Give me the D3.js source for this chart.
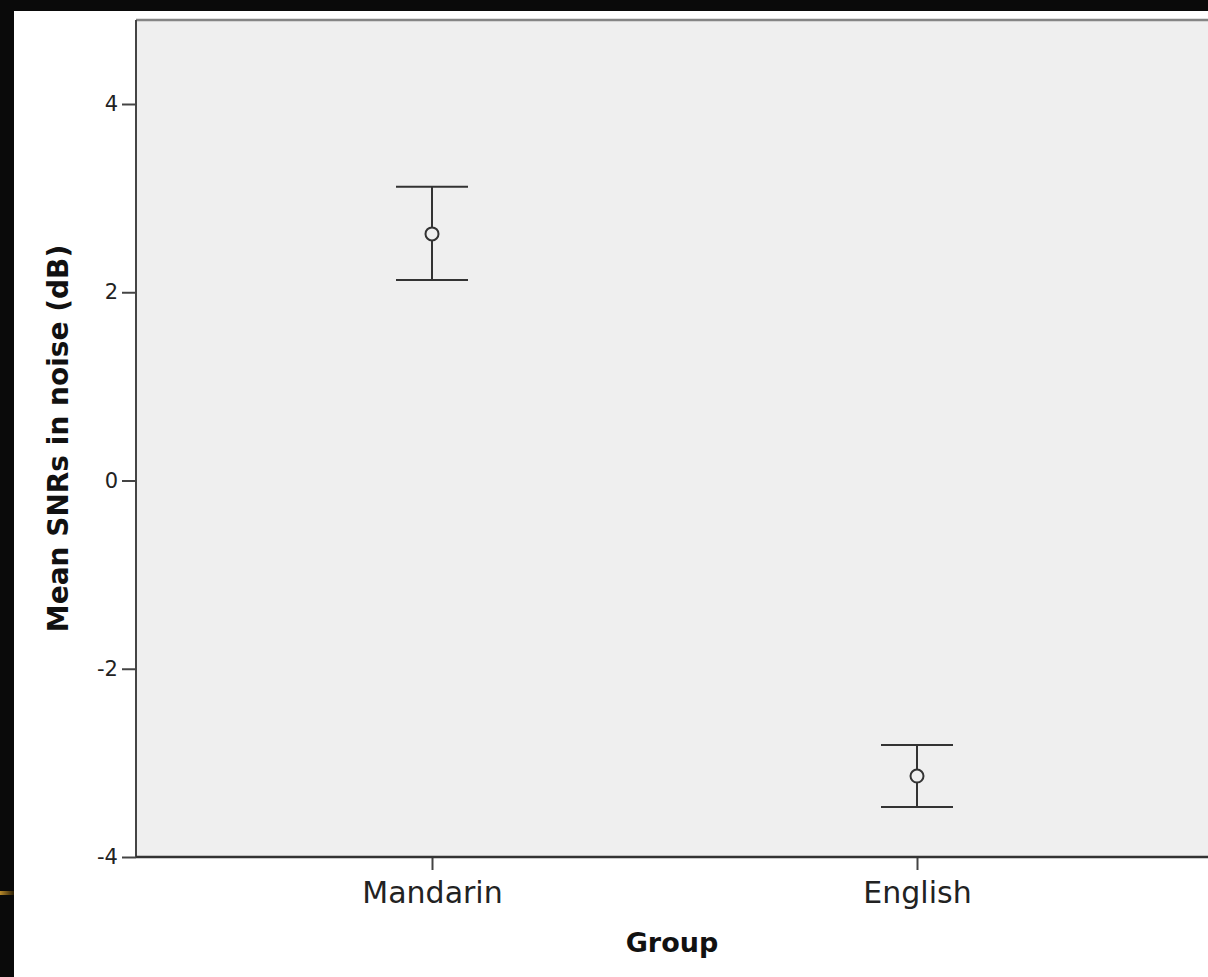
<!DOCTYPE html>
<html>
<head>
<meta charset="utf-8">
<script src="https://cdn.jsdelivr.net/npm/d3@7"></script>
<style>
  html, body { margin: 0; padding: 0; background: #000; }
  svg { display: block; }
</style>
</head>
<body>
<script>
// data
const groups = ["Mandarin", "English"];
const means = [2.62, -3.14];
const upper = [3.12, -2.81];
const lower = [2.13, -3.47];
const yTicks = [-4, -2, 0, 2, 4];

const width = 1208;
const height = 977;

const svg = d3.select("body").append("svg")
    .attr("width", width)
    .attr("height", height);

// black frame + white page
svg.append("rect").attr("width", width).attr("height", height).attr("fill", "#0a0a0a");
svg.append("rect").attr("x", 14).attr("y", 11).attr("width", width - 14).attr("height", height - 11).attr("fill", "#fff");

// small gold glare on the left edge
const grad = svg.append("defs").append("linearGradient").attr("id", "glare")
    .attr("x1", 0).attr("x2", 1);
grad.append("stop").attr("offset", "0%").attr("stop-color", "#b8892a");
grad.append("stop").attr("offset", "100%").attr("stop-color", "#2a1e06");
svg.append("rect").attr("x", 0).attr("y", 891).attr("width", 14).attr("height", 4).attr("fill", "url(#glare)");

const margin = {left: 136, top: 20};

const y = d3.scaleLinear()
    .domain([-4, 4])
    .range([857, 104]);

const x = d3.scalePoint()
    .domain(groups)
    .range([432, 917]);

const plotBottom = y(-4);
const plotTop = margin.top;

// plot background
svg.append("rect")
    .attr("x", margin.left)
    .attr("y", plotTop)
    .attr("width", width - margin.left)
    .attr("height", plotBottom - plotTop)
    .attr("fill", "#efefef");

// top border
svg.append("line")
    .attr("x1", margin.left).attr("x2", width)
    .attr("y1", plotTop).attr("y2", plotTop)
    .attr("stroke", "#858585").attr("stroke-width", 2.5);

// y axis
const yAxis = svg.append("g")
    .attr("transform", `translate(${margin.left},0)`)
    .call(d3.axisLeft(y).tickValues(yTicks).tickSize(14).tickPadding(4).tickFormat(d => d < 0 ? "-" + Math.abs(d) : d));
yAxis.select(".domain").remove();
yAxis.append("line")
    .attr("x1", 0).attr("x2", 0)
    .attr("y1", plotTop).attr("y2", plotBottom)
    .attr("stroke", "#444").attr("stroke-width", 2);
yAxis.selectAll(".tick line").attr("stroke", "#444").attr("stroke-width", 2);
yAxis.selectAll(".tick text")
    .attr("fill", "#222")
    .style("font", "21px 'DejaVu Sans', sans-serif");

// x axis
const xAxis = svg.append("g")
    .attr("transform", `translate(0,${plotBottom})`)
    .call(d3.axisBottom(x).tickSize(13).tickPadding(12));
xAxis.select(".domain").remove();
xAxis.append("line")
    .attr("x1", margin.left).attr("x2", width)
    .attr("y1", 0).attr("y2", 0)
    .attr("stroke", "#333").attr("stroke-width", 2.5);
xAxis.selectAll(".tick line").attr("stroke", "#444").attr("stroke-width", 2);
xAxis.selectAll(".tick text")
    .attr("fill", "#222")
    .style("font", "30px 'DejaVu Sans', sans-serif");

// error bars
const bars = svg.append("g")
    .selectAll("g")
    .data(groups)
    .join("g")
    .attr("stroke", "#333")
    .attr("stroke-width", 2)
    .attr("fill", "none");

const capHalf = 36;
bars.append("line")
    .attr("x1", d => x(d)).attr("x2", d => x(d))
    .attr("y1", (d, i) => y(upper[i])).attr("y2", (d, i) => y(lower[i]));
bars.append("line")
    .attr("x1", d => x(d) - capHalf).attr("x2", d => x(d) + capHalf)
    .attr("y1", (d, i) => y(upper[i])).attr("y2", (d, i) => y(upper[i]));
bars.append("line")
    .attr("x1", d => x(d) - capHalf).attr("x2", d => x(d) + capHalf)
    .attr("y1", (d, i) => y(lower[i])).attr("y2", (d, i) => y(lower[i]));
bars.append("circle")
    .attr("cx", d => x(d))
    .attr("cy", (d, i) => y(means[i]))
    .attr("r", 6.5)
    .attr("fill", "#efefef");

// axis titles
svg.append("text")
    .attr("x", (margin.left + width) / 2)
    .attr("y", 952)
    .attr("text-anchor", "middle")
    .attr("fill", "#111")
    .style("font", "bold 27px 'DejaVu Sans', sans-serif")
    .text("Group");

svg.append("text")
    .attr("transform", `translate(68,${(plotTop + plotBottom) / 2}) rotate(-90)`)
    .attr("text-anchor", "middle")
    .attr("fill", "#111")
    .style("font", "bold 28px 'DejaVu Sans', sans-serif")
    .text("Mean SNRs in noise (dB)");
</script>
</body>
</html>
